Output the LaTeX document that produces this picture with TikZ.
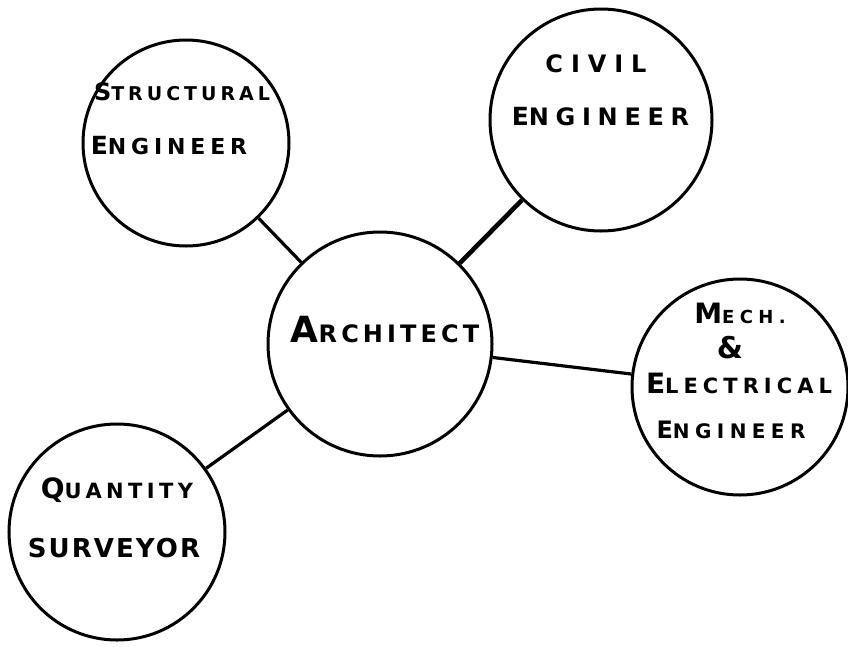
\documentclass[tikz,border=0pt]{standalone}
\usepackage{fontspec}
\newfontfamily\handfont{DejaVu Sans}
\newcommand{\bigfirst}[2]{{\fontsize{#1}{#1}\selectfont #2}}

\begin{document}
\begin{tikzpicture}[x=1pt, y=-1pt,
    disc/.style={draw, circle, line width=3pt, inner sep=0pt},
    link/.style={line width=3.2pt},
    lbl/.style 2 args={inner sep=0pt, font=\handfont\bfseries\fontsize{#1}{#1}\selectfont\addfontfeature{LetterSpace=#2}}]
    \useasboundingbox (0,0) rectangle (848,646);

    % circles
    \node[disc, minimum size=206pt] (struct) at (186,143) {};
    \node[disc, minimum size=222pt] (civil) at (601,120) {};
    \node[disc, minimum size=224pt] (arch) at (380,344) {};
    \node[disc, minimum size=216pt] (mech) at (740,387) {};
    \node[disc, minimum size=216pt] (qs) at (117,532) {};

    % links to the architect
    \foreach \n/\w in {struct/3.2pt, civil/4.6pt, mech/3.2pt, qs/3.2pt} {
        \draw[link, line width=\w] (arch) -- (\n);
    }

    % labels
    \node[lbl={19pt}{21}] (structA) at (182,91.5) {\bigfirst{24pt}{S}TRUCTURAL};
    \node[lbl={22pt}{22}] (structB) at (169,146) {\bigfirst{25pt}{E}NGINEER};
    \node[lbl={24pt}{33}] (civilA) at (596,64) {CIVIL};
    \node[lbl={24pt}{28}] (civilB) at (600.5,116.5) {\bigfirst{25pt}{E}NGINEER};
    \node[lbl={24pt}{17}] (archA) at (385,330) {\bigfirst{36pt}{A}RCHITECT};
    \node[lbl={18pt}{30}] (mechA) at (740,313) {\bigfirst{28pt}{M}ECH.};
    \node[lbl={30pt}{0}] (mechAmp) at (730,348) {\&};
    \node[lbl={21pt}{24}] (mechB) at (739,383) {\bigfirst{28pt}{E}LECTRICAL};
    \node[lbl={20pt}{27}] (mechC) at (731,429.5) {\bigfirst{24pt}{E}NGINEER};
    \node[lbl={21pt}{21}] (qsA) at (117,490) {\bigfirst{28pt}{Q}UANTITY};
    \node[lbl={26pt}{8}] (qsB) at (114,548) {SURVEYOR};
\end{tikzpicture}
\end{document}
